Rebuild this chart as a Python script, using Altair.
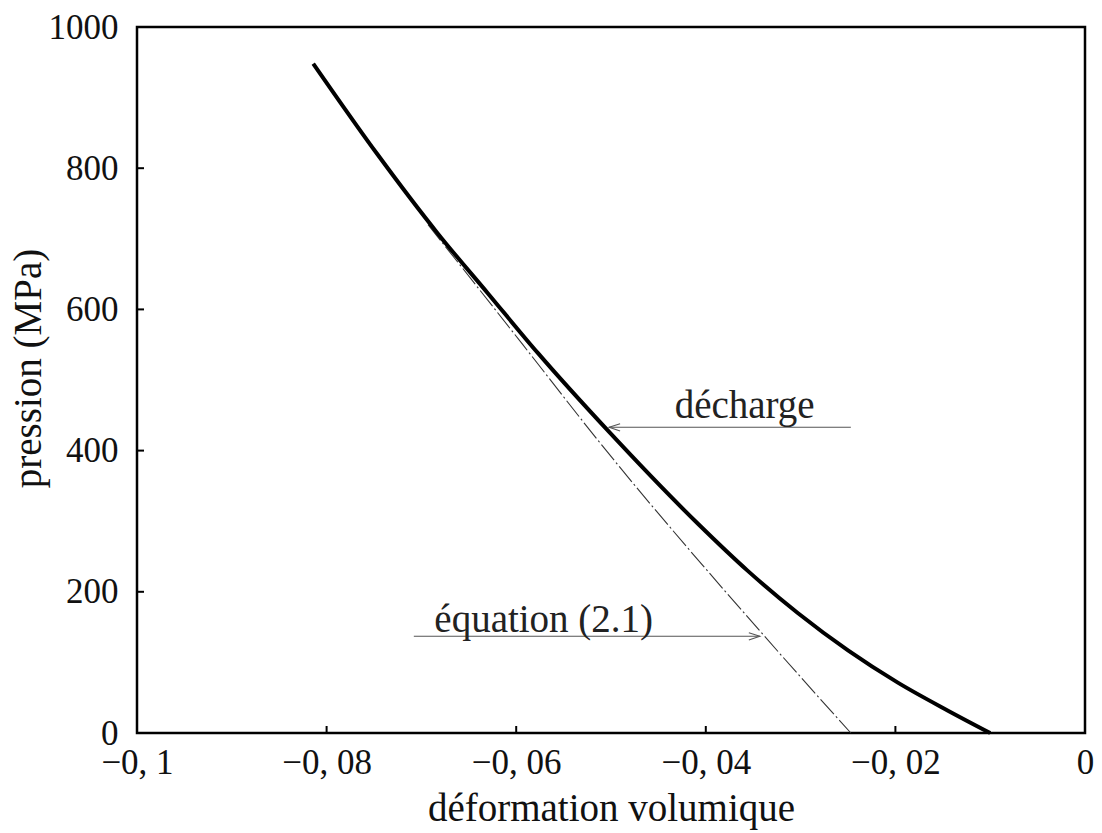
import altair as alt
import pandas as pd

# --- data ---
eps_decharge = [-0.0814, -0.0746, -0.0683, -0.0630, -0.0577, -0.0501, -0.0408,
                -0.0356, -0.0303, -0.0250, -0.0197, -0.0145, -0.0100]
p_decharge = [948, 819, 708, 623, 538, 425, 296, 230, 170, 117, 71, 32, 0]

eps_equation = [-0.0693, -0.0667, -0.0593, -0.0514, -0.0338, -0.0247]
p_equation = [720, 676, 550, 415, 137, 0]

x_ticks = [-0.1, -0.08, -0.06, -0.04, -0.02, 0.0]
y_ticks = [0, 200, 400, 600, 800, 1000]

ann_labels = ["décharge", "équation (2.1)"]
ann_text_x = [-0.0359, -0.0571]
ann_text_y = [446, 143]
ann_tail_x = [-0.0247, -0.0708]
ann_tip_x = [-0.0502, -0.0343]
ann_y = [433, 137]
ann_dir = ["left", "right"]

W, H = 948, 706
FONT = "Liberation Serif"
INK = "#111111"

xs = alt.Scale(domain=[-0.1, 0], nice=False, zero=False)
ys = alt.Scale(domain=[0, 1000], nice=False, zero=False)

x_axis = alt.Axis(
    values=x_ticks, title="déformation volumique",
    labelExpr="datum.value == 0 ? '0' : '\u2212' + replace(format(abs(datum.value), '.2~f'), '.', ', ')",
    tickSize=0, domain=False, grid=False,
    labelFont=FONT, labelFontSize=35, labelColor=INK, labelPadding=40,
    labelBaseline="alphabetic", labelFlush=False,
    titleFont=FONT, titleFontSize=39, titleFontWeight="normal", titleColor=INK,
    titleX=W / 2, titleY=87, titleBaseline="alphabetic", titleAlign="center",
)
y_axis = alt.Axis(
    values=y_ticks, title="pression (MPa)",
    labelExpr="format(datum.value, 'd')",
    tickSize=0, domain=False, grid=False,
    labelFont=FONT, labelFontSize=35, labelColor=INK, labelPadding=19,
    labelBaseline="middle", labelFlush=False,
    titleFont=FONT, titleFontSize=39, titleFontWeight="normal", titleColor=INK,
    titleX=-97, titleY=H / 2 - 12, titleAngle=270, titleBaseline="alphabetic", titleAlign="center",
)

X = lambda: alt.X("eps:Q", scale=xs, axis=x_axis)
Y = lambda: alt.Y("p:Q", scale=ys, axis=y_axis)

df_d = pd.DataFrame({"eps": eps_decharge, "p": p_decharge})
df_e = pd.DataFrame({"eps": eps_equation, "p": p_equation})

eq_line = alt.Chart(df_e).mark_line(
    color="#333333", strokeWidth=1.1, strokeDash=[20, 3, 2, 3], interpolate="monotone"
).encode(x=X(), y=Y())

dech_line = alt.Chart(df_d).mark_line(
    color="black", strokeWidth=4, interpolate="monotone"
).encode(x=X(), y=Y())

df_ann = pd.DataFrame({
    "label": ann_labels, "tx": ann_text_x, "ty": ann_text_y,
    "tail": ann_tail_x, "tip": ann_tip_x, "ay": ann_y, "dir": ann_dir,
})

arrow_rules = alt.Chart(df_ann).mark_rule(color="#555555", strokeWidth=1.1).encode(
    x=alt.X("tail:Q", scale=xs, axis=x_axis), x2="tip:Q",
    y=alt.Y("ay:Q", scale=ys, axis=y_axis),
)

heads = alt.Chart(df_ann).mark_point(
    filled=False, color="#555555", strokeWidth=1.1, size=484, opacity=1
).encode(
    x=alt.X("tip:Q", scale=xs, axis=x_axis),
    y=alt.Y("ay:Q", scale=ys, axis=y_axis),
    shape=alt.Shape("dir:N", scale=alt.Scale(
        domain=["left", "right"],
        range=["M1,-0.33L0,0L1,0.33", "M-1,-0.33L0,0L-1,0.33"]), legend=None),
)

texts = alt.Chart(df_ann).mark_text(
    font=FONT, fontSize=39, color="#222222", align="center", baseline="alphabetic"
).encode(
    x=alt.X("tx:Q", scale=xs, axis=x_axis),
    y=alt.Y("ty:Q", scale=ys, axis=y_axis),
    text="label:N",
)

xt = alt.Chart(pd.DataFrame({"eps": x_ticks[1:-1]})).mark_rule(
    color="black", strokeWidth=2).encode(
    x=X(), y=alt.value(H), y2=alt.value(H - 7))
yt = alt.Chart(pd.DataFrame({"p": y_ticks[1:-1]})).mark_rule(
    color="black", strokeWidth=2).encode(
    y=Y(), x=alt.value(0), x2=alt.value(7))

chart = alt.layer(eq_line, dech_line, arrow_rules, heads, texts, xt, yt).properties(
    width=W, height=H,
    autosize=alt.AutoSizeParams(type="none"),
    padding={"left": 129, "top": 19, "right": 9, "bottom": 97},
    background="white",
).configure_view(stroke="black", strokeWidth=2.5)

chart.save("out.html", embed_options={"renderer": "svg", "actions": False})
